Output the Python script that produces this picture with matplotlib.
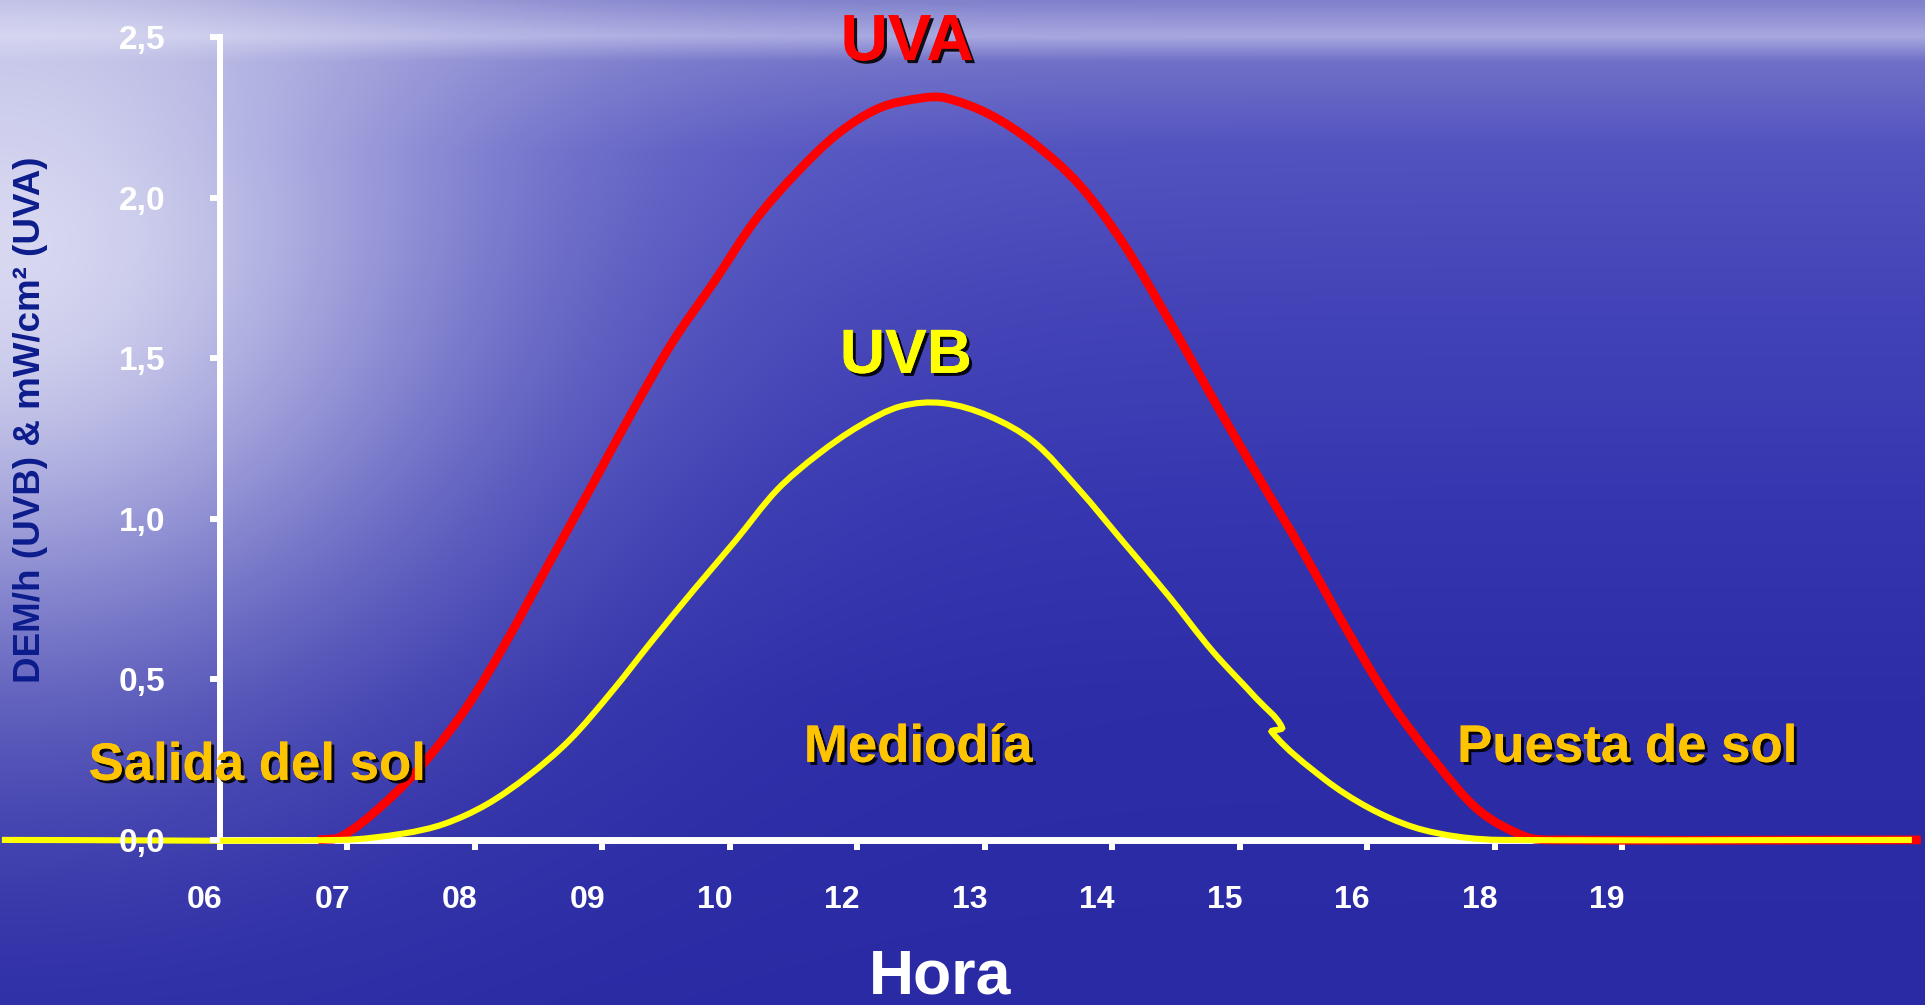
import numpy as np
import matplotlib
matplotlib.use('Agg')
import matplotlib.pyplot as plt
import matplotlib.patheffects as pe
from matplotlib.path import Path
from matplotlib.patches import PathPatch

plt.rcParams['font.family'] = ['Liberation Sans', 'DejaVu Sans']
plt.rcParams['font.weight'] = 'bold'

# category axis: hour labels (equally spaced categories)
hours = ['06', '07', '08', '09', '10', '12', '13', '14', '15', '16', '18', '19']

# UVA curve (red), x in category units, value in mW/cm2
uva_x = [0.77, 0.95, 1.28, 1.60, 1.93, 2.25, 2.58, 2.90, 3.23, 3.55, 3.88, 4.20,
         4.53, 4.85, 5.18, 5.51, 5.69, 6.03, 6.38, 6.74, 7.08, 7.44, 7.78, 8.13,
         8.49, 8.83, 9.18, 9.54, 9.88, 10.24, 10.45, 13.34]
uva_y = [0.0, 0.01, 0.11, 0.24, 0.41, 0.62, 0.86, 1.09, 1.33, 1.55, 1.74, 1.93,
         2.08, 2.20, 2.28, 2.31, 2.31, 2.26, 2.17, 2.04, 1.86, 1.62, 1.38, 1.14,
         0.90, 0.66, 0.43, 0.24, 0.09, 0.01, 0.0, 0.0]

# UVB curve (yellow), DEM/h
uvb_x = [-1.71, 0.95, 1.44, 1.76, 2.09, 2.42, 2.74, 3.07, 3.39, 3.72, 4.04, 4.37,
         4.69, 5.02, 5.34, 5.67, 6.03, 6.38, 6.74, 7.08, 7.44, 7.78, 8.13, 8.33,
         8.25, 8.66, 9.01, 9.36, 9.71, 10.06, 13.27]
uvb_y = [0.0, 0.0, 0.02, 0.05, 0.11, 0.20, 0.31, 0.46, 0.62, 0.78, 0.93, 1.09,
         1.20, 1.29, 1.35, 1.36, 1.32, 1.24, 1.09, 0.93, 0.76, 0.59, 0.44, 0.35,
         0.336, 0.19, 0.10, 0.04, 0.01, 0.0, 0.0]

y_ticks = [0.0, 0.5, 1.0, 1.5, 2.0, 2.5]
y_labels = ['0,0', '0,5', '1,0', '1,5', '2,0', '2,5']


def smooth_path(xs, ys, sx=127.5, sy=321.2):
    # smoothed line (bezier through the points), like a spreadsheet "smooth line"
    p = np.column_stack([np.array(xs) * sx, np.array(ys) * sy])
    n = len(p)
    verts = [p[0]]
    codes = [Path.MOVETO]
    for i in range(n - 1):
        p0, p1 = p[max(i - 1, 0)], p[i]
        p2, p3 = p[i + 1], p[min(i + 2, n - 1)]
        d = np.linalg.norm(p2 - p1)
        t1 = p2 - p0
        t2 = p3 - p1
        t1 = t1 / (np.linalg.norm(t1) or 1)
        t2 = t2 / (np.linalg.norm(t2) or 1)
        verts += [p1 + t1 * d / 3, p2 - t2 * d / 3, p2]
        codes += [Path.CURVE4] * 3
    verts = np.array(verts) / [sx, sy]
    return Path(verts, codes)


fig = plt.figure(figsize=(19.25, 10.05), dpi=100)

# sea-like blue background
H, W = 201, 385
yy, xx = np.mgrid[0:H, 0:W]
ypx = yy * 1005 / (H - 1)
xpx = xx * 1925 / (W - 1)
stops = [0, 35, 60, 150, 300, 500, 700, 1005]
cols = np.array([[128, 128, 204], [168, 168, 224], [112, 112, 200], [82, 82, 192],
                 [68, 68, 184], [54, 54, 176], [45, 45, 168], [42, 42, 164]]) / 255.0
bg = np.zeros((H, W, 3))
for c in range(3):
    bg[..., c] = np.interp(ypx, stops, cols[:, c])
glow = 0.88 * np.exp(-(xpx ** 2) / (2 * 340 ** 2) - ((ypx - 250) ** 2) / (2 * 300 ** 2))
white = np.array([235, 235, 248]) / 255.0
bg = bg * (1 - glow[..., None]) + white * glow[..., None]

bg_ax = fig.add_axes([0, 0, 1, 1], zorder=0)
bg_ax.imshow(bg, aspect='auto', interpolation='bilinear', extent=[0, 1, 0, 1])
bg_ax.axis('off')

ax = fig.add_axes([0, 0, 1, 1], zorder=1)
ax.patch.set_alpha(0)
ax.set_xlim(-1.725, 13.373)
ax.set_ylim(-0.514, 2.615)

ax.add_patch(PathPatch(smooth_path(uva_x, uva_y), fill=False, edgecolor='#ff0000',
                       lw=6.3, joinstyle='round', capstyle='butt', zorder=3))
ax.add_patch(PathPatch(smooth_path(uvb_x, uvb_y), fill=False, edgecolor='#ffff00',
                       lw=4.4, joinstyle='miter', capstyle='butt', zorder=4))

for s in ['top', 'right']:
    ax.spines[s].set_visible(False)
ax.spines['left'].set_position(('data', 0))
ax.spines['bottom'].set_position(('data', 0))
ax.spines['left'].set_bounds(0, 2.5)
ax.spines['bottom'].set_bounds(0, 11)
ax.spines['left'].set_linewidth(4.3)
ax.spines['bottom'].set_linewidth(5)
for s in ['left', 'bottom']:
    ax.spines[s].set_color('white')
    ax.spines[s].set_zorder(1)

ax.set_xticks(range(len(hours)))
ax.set_xticklabels([])
ax.set_yticks(y_ticks)
ax.set_yticklabels(y_labels)
ax.tick_params(axis='both', direction='out', length=7.2, width=4.3, color='white')
ax.tick_params(axis='y', pad=32, labelsize=24, labelcolor='white')
for lab in ax.get_yticklabels():
    lab.set_fontweight('bold')
ax.yaxis.set_zorder(5)

for i, h in enumerate(hours):
    ax.text(i - 0.12, -0.212, h, color='white', fontsize=23, fontweight='bold',
            ha='center', va='baseline')

shadow = [pe.withSimplePatchShadow(offset=(2.2, -2.2), shadow_rgbFace='black', alpha=0.9),
          pe.Normal()]

ax.text(5.39, 2.428, 'UVA', color='#ff0000', fontsize=47, fontweight='bold',
        ha='center', va='baseline', path_effects=shadow)
ax.text(5.38, 1.454, 'UVB', color='#ffff00', fontsize=45, fontweight='bold',
        ha='center', va='baseline', path_effects=shadow)
ax.text(0.29, 0.187, 'Salida del sol', color='#ffc400', fontsize=38, fontweight='bold',
        ha='center', va='baseline', path_effects=shadow, zorder=7)
ax.text(5.475, 0.243, 'Mediodía', color='#ffc400', fontsize=38, fontweight='bold',
        ha='center', va='baseline', path_effects=shadow)
ax.text(11.035, 0.243, 'Puesta de sol', color='#ffc400', fontsize=38, fontweight='bold',
        ha='center', va='baseline', path_effects=shadow)
ax.text(5.65, -0.478, 'Hora', color='white', fontsize=45, fontweight='bold',
        ha='center', va='baseline')

fig.text(31 / 1925, 1 - 420 / 1005, 'DEM/h (UVB) & mW/cm² (UVA)', color='#0c1c8c',
         fontsize=26.5, fontweight='bold', rotation=90, ha='center', va='center')

fig.savefig('out.png', dpi=100)
